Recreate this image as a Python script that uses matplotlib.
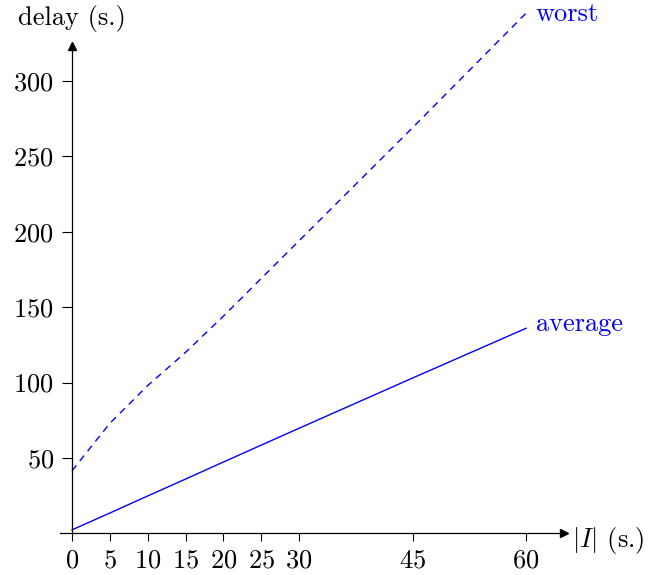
import matplotlib
matplotlib.use("Agg")
import matplotlib.pyplot as plt

plt.rcParams['font.family'] = 'serif'
plt.rcParams['font.serif'] = ['cmr10', 'DejaVu Serif']
plt.rcParams['mathtext.fontset'] = 'cm'
plt.rcParams['axes.formatter.use_mathtext'] = True

# interval length |I| (s.)
sizes = [0, 5, 10, 15, 20, 25, 30, 45, 60]
# delays
worst = [41.5, 73, 98, 120, 144, 169, 194, 269, 345]
average = [2.3, 13.5, 24.8, 36, 47.3, 58.5, 69.7, 103, 136]
yticks = [50, 100, 150, 200, 250, 300]

fig = plt.figure(figsize=(6.48, 5.75), dpi=100)
ax = fig.add_axes([0.0924, 0.0724, 0.7778, 0.8471])

# lines go above the y arrow, so no clipping
ax.plot(sizes, worst, color='blue', lw=1.0, dashes=(5, 4), clip_on=False)
ax.plot(sizes, average, color='blue', lw=1.0, clip_on=False)

ax.set_xlim(-1.6, 65)
ax.set_ylim(0, 323)
ax.set_xticks(sizes)
ax.set_yticks(yticks)

for s in ['top', 'right']:
    ax.spines[s].set_visible(False)
ax.spines['left'].set_position(('data', 0))
ax.spines['bottom'].set_position(('data', 0))
for s in ['left', 'bottom']:
    ax.spines[s].set_linewidth(0.9)

ax.tick_params(axis='x', direction='out', length=6, width=0.8, pad=5, labelsize=19)
ax.tick_params(axis='y', direction='out', length=7, width=0.8, pad=6, labelsize=19)

# arrow heads on the axes
ax.plot(1, 0, '>k', ms=6, transform=ax.get_yaxis_transform(), clip_on=False)
ax.plot(0, 1, '^k', ms=6, transform=ax.get_xaxis_transform(), clip_on=False)

ax.annotate('delay (s.)', xy=(0, 1), xycoords=ax.get_xaxis_transform(),
            xytext=(0, 20), textcoords='offset points', ha='center', va='center', fontsize=19)
ax.annotate(r'$|I|$ (s.)', xy=(1, 0), xycoords=ax.get_yaxis_transform(),
            xytext=(6, -5), textcoords='offset points', ha='left', va='center', fontsize=19)

ax.annotate('worst', xy=(sizes[-1], worst[-1]), xytext=(7, -1), textcoords='offset points',
            ha='left', va='center', color='blue', fontsize=19, annotation_clip=False)
ax.annotate('average', xy=(sizes[-1], average[-1]), xytext=(7, 3), textcoords='offset points',
            ha='left', va='center', color='blue', fontsize=19, annotation_clip=False)

fig.savefig('out.png', dpi=100)
